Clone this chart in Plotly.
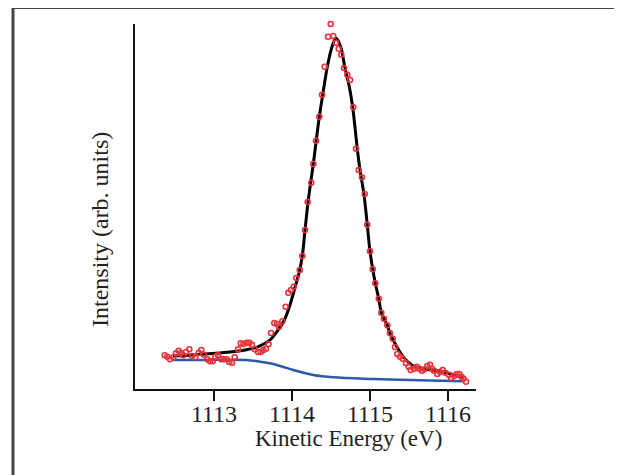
import plotly.graph_objects as go

# Measured data (kinetic energy in eV, intensity in arb. units)
energy_data = [
    1112.368, 1112.401, 1112.436, 1112.478, 1112.513, 1112.547, 1112.573, 1112.606,
    1112.641, 1112.683, 1112.718, 1112.760, 1112.804, 1112.837, 1112.872, 1112.914,
    1112.949, 1112.983, 1113.017, 1113.051, 1113.094, 1113.128, 1113.163, 1113.196,
    1113.231, 1113.265, 1113.308, 1113.342, 1113.376, 1113.419, 1113.453, 1113.487,
    1113.522, 1113.564, 1113.599, 1113.632, 1113.667, 1113.699, 1113.731, 1113.773,
    1113.808, 1113.833, 1113.876, 1113.919, 1113.953, 1113.987, 1114.022, 1114.055,
    1114.099, 1114.132, 1114.167, 1114.201, 1114.247, 1114.273, 1114.308, 1114.350,
    1114.385, 1114.419, 1114.462, 1114.496, 1114.529, 1114.564, 1114.599, 1114.632,
    1114.667, 1114.709, 1114.744, 1114.786, 1114.821, 1114.855, 1114.897, 1114.932,
    1114.965, 1115.000, 1115.035, 1115.068, 1115.112, 1115.145, 1115.179, 1115.222,
    1115.256, 1115.291, 1115.321, 1115.350, 1115.385, 1115.419, 1115.462, 1115.496,
    1115.522, 1115.564, 1115.599, 1115.632, 1115.667, 1115.701, 1115.735, 1115.769,
    1115.795, 1115.821, 1115.863, 1115.897, 1115.932, 1115.965, 1116.009, 1116.042,
    1116.077, 1116.112, 1116.147, 1116.173, 1116.199, 1116.231,
]
intensity_data = [
    33.7, 32.3, 29.7, 31.7, 35.7, 38.3, 35.7, 33.7,
    37.0, 39.7, 33.0, 31.7, 36.3, 39.0, 34.3, 29.7,
    27.7, 27.7, 32.3, 33.7, 29.7, 29.7, 29.7, 27.0,
    26.3, 31.7, 39.7, 45.7, 45.0, 46.3, 46.3, 44.3,
    39.7, 37.0, 37.0, 39.0, 40.3, 45.0, 56.0, 66.0,
    65.0, 62.3, 67.7, 82.3, 96.3, 99.0, 102.3, 111.0,
    119.0, 133.0, 159.0, 187.0, 206.3, 225.0, 248.3, 272.3,
    294.3, 322.3, 352.3, 365.0, 353.0, 346.3, 340.3, 334.3,
    321.0, 314.3, 309.0, 281.7, 240.3, 219.0, 211.7, 195.0,
    164.3, 137.7, 119.7, 105.7, 90.3, 76.3, 70.3, 63.7,
    55.7, 50.3, 42.0, 35.0, 32.3, 30.3, 25.7, 22.3,
    19.0, 20.3, 22.3, 20.3, 18.3, 19.7, 23.0, 24.3,
    20.3, 18.3, 15.0, 17.0, 19.0, 16.3, 14.3, 11.0,
    13.0, 15.0, 15.0, 12.3, 10.3, 7.3,
]

# Fit envelope
energy_fit = [
    1112.474, 1112.628, 1112.778, 1112.987, 1113.205, 1113.397, 1113.547, 1113.654,
    1113.718, 1113.791, 1113.894, 1113.974, 1114.029, 1114.099, 1114.132, 1114.167,
    1114.209, 1114.273, 1114.350, 1114.394, 1114.453, 1114.513, 1114.564, 1114.624,
    1114.676, 1114.735, 1114.778, 1114.837, 1114.872, 1114.923, 1114.965, 1115.000,
    1115.035, 1115.068, 1115.112, 1115.145, 1115.179, 1115.222, 1115.256, 1115.324,
    1115.401, 1115.487, 1115.555, 1115.727, 1115.897, 1116.042, 1116.205,
]
intensity_fit = [
    33.0, 33.5, 34.3, 35.5, 37.0, 39.0, 41.7, 45.7,
    49.0, 55.7, 67.7, 84.0, 99.0, 119.0, 133.0, 159.0,
    189.0, 225.0, 272.3, 294.3, 322.3, 342.3, 350.7, 342.3,
    322.3, 302.3, 281.7, 240.3, 219.0, 194.3, 164.3, 137.7,
    119.7, 105.7, 90.3, 76.3, 70.3, 63.7, 55.7, 45.0,
    35.0, 27.0, 23.0, 19.7, 17.7, 15.0, 11.0,
]

# Background
energy_bg = [
    1112.478, 1112.821, 1113.205, 1113.419, 1113.590, 1113.718, 1113.872,
    1114.017, 1114.273, 1114.529, 1115.042, 1115.641, 1116.196,
]
intensity_bg = [
    29.0, 29.0, 29.3, 29.0, 27.3, 25.7, 22.5,
    19.0, 14.0, 11.7, 10.0, 8.7, 7.7,
]

tick_values = [1113, 1114, 1115, 1116]
tick_labels = ["1113", "1114", "1115", "1116"]

FONT = "Liberation Serif"
OFF = 8  # page body margin offset

fig = go.Figure()
fig.add_trace(go.Scatter(
    x=energy_bg, y=intensity_bg, mode="lines",
    line=dict(color="#2c5aa8", width=2.5, shape="spline"),
    hoverinfo="skip", showlegend=False,
))
fig.add_trace(go.Scatter(
    x=energy_fit, y=intensity_fit, mode="lines",
    line=dict(color="#000000", width=3, shape="spline"),
    showlegend=False,
))
fig.add_trace(go.Scatter(
    x=energy_data, y=intensity_data, mode="markers",
    marker=dict(symbol="circle-open", size=5, color="#e8323a",
                line=dict(width=1.6, color="#e8323a")),
    cliponaxis=False, showlegend=False,
))

W, H = 622, 475
L = 135 - OFF
T = 24 - OFF
R = W - (476 - OFF)
B = H - (389 - OFF)
PW = W - L - R
PH = H - T - B

def px_x(p):
    return (p - OFF - L) / PW

def px_y(p):
    return (H - B - (p - OFF)) / PH

fig.update_layout(
    width=W, height=H,
    margin=dict(l=L, r=R, t=T, b=B, pad=0),
    paper_bgcolor="white", plot_bgcolor="white",
    font=dict(family=FONT, size=23, color="#222222"),
    xaxis=dict(
        range=[1111.987, 1116.359],
        tickvals=tick_values, ticktext=tick_labels,
        ticks="outside", ticklen=10, tickwidth=2, tickcolor="#111111",
        showline=True, linecolor="#111111", linewidth=2,
        showgrid=False, zeroline=False,
        ticklabelstandoff=-8,
        tickfont=dict(family=FONT, size=24, color="#222222"),
    ),
    yaxis=dict(
        range=[0, 365],
        showticklabels=False, ticks="",
        showline=True, linecolor="#111111", linewidth=2,
        showgrid=False, zeroline=False,
    ),
    annotations=[
        dict(text="Kinetic Energy (eV)", xref="paper", yref="paper",
             x=px_x(348), y=px_y(438), xanchor="center", yanchor="middle",
             showarrow=False, font=dict(family=FONT, size=23, color="#222222")),
        dict(text="Intensity (arb. units)", xref="paper", yref="paper",
             x=px_x(100), y=px_y(230), xanchor="center", yanchor="middle",
             textangle=-90, showarrow=False,
             font=dict(family=FONT, size=24, color="#222222")),
    ],
    shapes=[
        dict(type="rect", xref="paper", yref="paper",
             x0=px_x(13), x1=px_x(615.5), y0=px_y(495), y1=px_y(7.5),
             line=dict(color="#454545", width=3), layer="above"),
    ],
)

fig.write_html("out.html")
